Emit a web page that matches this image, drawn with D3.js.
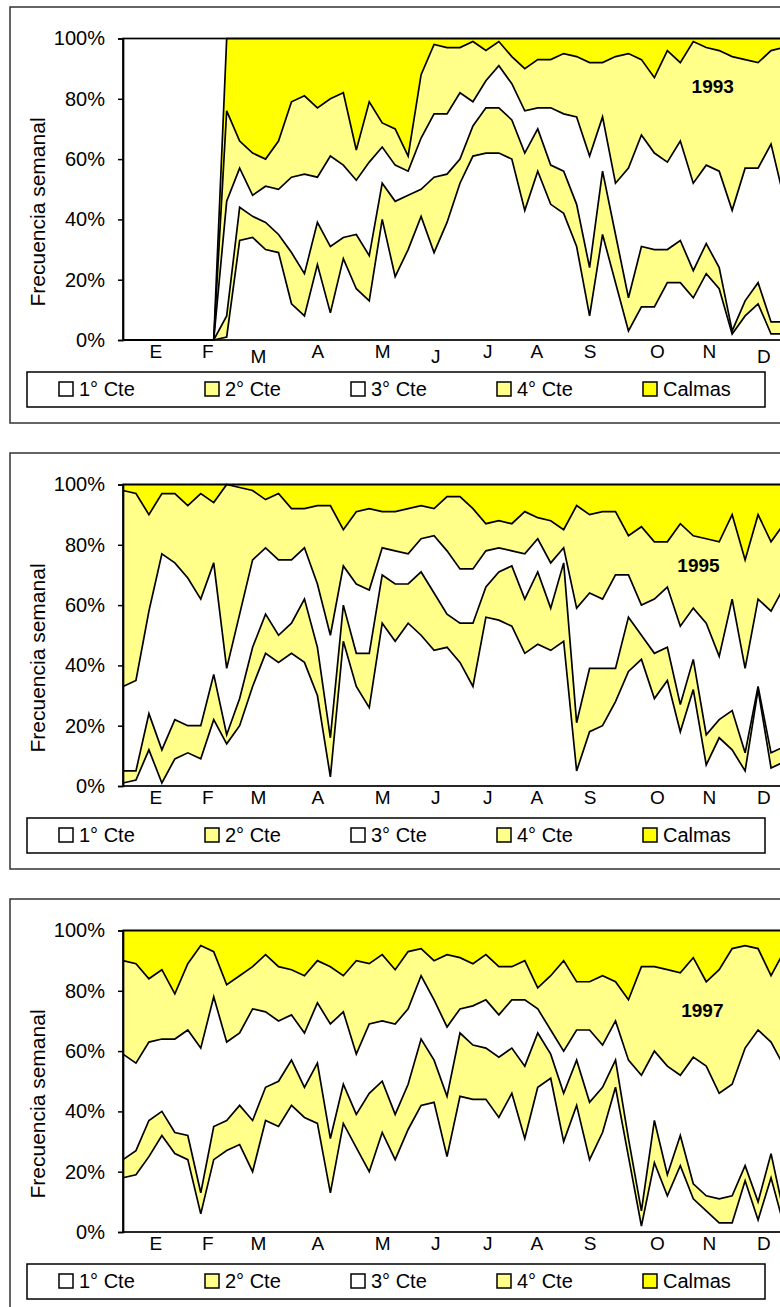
<!DOCTYPE html>
<html>
<head>
<meta charset="utf-8">
<script src="https://cdn.jsdelivr.net/npm/d3@7"></script>
<style>
body { margin: 0; background: #fff; }
svg { display: block; }
text { font-family: "Liberation Sans", Arial, sans-serif; fill: #000; }
</style>
</head>
<body>
<svg id="chart" width="780" height="1307"></svg>
<script>
// weekly frequency (%) per wind class, 52 weeks per year
const years = ['1993', '1995', '1997']
const seriesNames = ['1° Cte', '2° Cte', '3° Cte', '4° Cte', 'Calmas']
const months = ['E', 'F', 'M', 'A', 'M', 'J', 'J', 'A', 'S', 'O', 'N', 'D']
const monthWeeks = [2.5, 6.5, 10.4, 15, 20, 24.1, 28.1, 31.9, 36, 41.2, 45.2, 49.4]
const yTicks = [0, 20, 40, 60, 80, 100]

const cte1_1993 = [0,0,0,0,0,0,0,0,1,33,34,30,29,12,8,25,9,27,17,13,40,21,30,41,29,39,52,61,62,62,60,43,56,45,42,31,8,35,19,3,11,11,19,19,14,22,17,2,8,12,2,2]
const cte2_1993 = [0,0,0,0,0,0,0,0,7,11,7,9,6,17,14,14,22,7,18,15,12,25,18,9,25,16,8,10,15,15,13,19,14,13,14,14,16,21,16,11,20,19,11,14,9,10,7,1,5,7,4,4]
const cte3_1993 = [0,0,0,0,0,0,0,0,38,13,7,12,15,25,33,15,30,24,18,31,12,12,8,17,21,20,22,8,9,14,12,14,7,19,19,29,37,18,17,43,37,32,29,33,29,26,32,40,44,38,59,41]
const cte4_1993 = [0,0,0,0,0,0,0,0,30,9,14,9,16,25,26,23,19,24,10,20,8,12,5,21,23,22,15,20,10,8,9,14,16,16,20,20,31,18,42,38,25,25,37,26,47,39,40,51,36,35,31,50]
const calmas_1993 = [0,0,0,0,0,0,0,0,24,34,38,40,34,21,19,23,20,18,37,21,28,30,39,12,2,3,3,1,4,1,6,10,7,7,5,6,8,8,6,5,7,13,4,8,1,3,4,6,7,8,4,3]

const cte1_1995 = [1,2,12,1,9,11,9,22,14,20,33,44,41,44,41,30,3,48,33,26,54,48,54,50,45,46,41,33,56,55,53,44,47,45,48,5,18,20,28,38,42,29,35,18,32,7,16,12,5,32,6,8]
const cte2_1995 = [4,3,12,11,13,9,11,15,3,9,13,13,9,10,21,16,13,12,11,18,16,19,13,21,19,11,13,21,10,16,20,18,24,14,26,16,21,19,11,18,8,15,11,9,10,10,6,13,6,1,5,5]
const cte3_1995 = [28,30,34,65,52,49,42,37,22,28,29,22,25,21,17,21,34,13,23,21,9,11,10,11,19,21,18,18,12,8,5,15,11,15,5,38,25,23,31,14,10,18,20,26,17,37,21,37,28,29,47,53]
const cte4_1995 = [65,62,32,20,23,24,35,20,61,42,23,16,22,17,13,26,43,12,24,27,12,13,15,11,9,18,24,20,9,9,9,14,7,14,6,34,26,29,21,13,26,19,15,34,24,28,38,28,36,28,23,21]
const calmas_1995 = [2,3,10,3,3,7,3,6,0,1,2,5,3,8,8,7,7,15,9,8,9,9,8,7,8,4,4,8,13,12,13,9,11,12,15,7,10,9,9,17,14,19,19,13,17,18,19,10,25,10,19,13]

const cte1_1997 = [18,19,25,32,26,24,6,24,27,29,20,37,35,42,38,36,13,36,28,20,33,24,34,42,43,25,45,44,44,38,46,31,48,51,30,42,24,33,48,25,2,23,12,22,11,7,3,3,17,4,18,2]
const cte2_1997 = [6,8,12,8,7,8,7,11,10,13,17,11,15,15,10,20,18,13,11,26,17,15,15,22,14,20,21,18,17,20,15,24,18,8,16,15,19,15,9,6,5,14,7,10,5,5,8,9,5,6,8,4]
const cte3_1997 = [35,29,26,24,31,35,48,43,26,24,37,25,20,15,18,20,38,24,20,23,20,30,25,21,20,23,8,13,16,14,16,22,8,8,14,10,24,14,13,26,45,23,36,20,42,43,35,37,39,57,37,49]
const cte4_1997 = [31,33,21,23,15,22,34,15,19,19,14,19,18,15,19,14,19,12,31,20,22,18,19,9,13,24,17,14,15,16,11,13,7,18,30,16,16,23,13,20,36,28,32,34,33,28,41,45,34,27,22,38]
const calmas_1997 = [10,11,16,13,21,11,5,7,18,15,12,8,12,13,15,10,12,15,10,11,8,13,7,6,10,8,9,11,8,12,12,10,19,15,10,17,17,15,17,23,12,12,13,14,9,17,13,6,5,6,15,7]

const yearSeries = [
    [cte1_1993, cte2_1993, cte3_1993, cte4_1993, calmas_1993],
    [cte1_1995, cte2_1995, cte3_1995, cte4_1995, calmas_1995],
    [cte1_1997, cte2_1997, cte3_1997, cte4_1997, calmas_1997]
]

// layout
const panelTops = [7, 453, 899]
const plotTop = 31.5, plotH = 301.5
const yearLabelAt = [[45.5, 82], [44.4, 71], [44.7, 71.4]]   // [week, %]
const colors = ['#ffffff', '#ffff8a', '#ffffff', '#ffff8a', '#ffff00']
const font = '"Liberation Sans", Arial, sans-serif'

const svg = d3.select('#chart')
const x = d3.scaleLinear().domain([0, 51]).range([123, 784])
const y = d3.scaleLinear().domain([0, 100]).range([plotTop + plotH, plotTop])

years.forEach((year, p) => {
    const g = svg.append('g').attr('transform', `translate(0,${panelTops[p]})`)
    const rows = d3.range(52).map(i => {
        const r = { week: i }
        seriesNames.forEach((k, s) => { r[k] = yearSeries[p][s][i] })
        return r
    })
    const stacked = d3.stack().keys(seriesNames)(rows)

    g.append('rect')
        .attr('x', 10).attr('y', 0)
        .attr('width', 800).attr('height', 416)
        .attr('fill', 'none')
        .attr('stroke', '#333')
        .attr('stroke-width', 1.5)

    const area = d3.area()
        .x((d, i) => x(i))
        .y0(d => y(d[0]))
        .y1(d => y(d[1]))
    const line = d3.line()
        .x((d, i) => x(i))
        .y(d => y(d[1]))

    g.selectAll('.band')
        .data(stacked)
        .enter()
        .append('path')
        .attr('d', area)
        .attr('fill', (d, i) => colors[i])
        .attr('stroke', 'none')

    g.selectAll('.edge')
        .data(stacked)
        .enter()
        .append('path')
        .attr('d', line)
        .attr('fill', 'none')
        .attr('stroke', '#000')
        .attr('stroke-width', 1.7)
        .attr('stroke-linejoin', 'miter')

    // plot frame
    g.append('rect')
        .attr('x', x(0)).attr('y', y(100))
        .attr('width', x(51) - x(0)).attr('height', y(0) - y(100))
        .attr('fill', 'none')
        .attr('stroke', '#000')
        .attr('stroke-width', 1.7)

    const yAxis = g.append('g')
        .attr('transform', `translate(${x(0)},0)`)
        .call(d3.axisLeft(y).tickValues(yTicks).tickFormat(d => d + '%').tickSize(5).tickPadding(13))
    yAxis.select('.domain').attr('stroke', '#000').attr('stroke-width', 1.7)
    yAxis.selectAll('line').attr('stroke', '#000').attr('stroke-width', 1.5)
    yAxis.selectAll('text').attr('font-size', 20).attr('font-family', font).attr('fill', '#000')

    const xAxis = g.append('g')
        .attr('transform', `translate(0,${y(0)})`)
        .call(d3.axisBottom(x).tickValues(monthWeeks).tickFormat((d, i) => months[i]).tickSize(0).tickPadding(5))
    xAxis.select('.domain').remove()
    xAxis.selectAll('text').attr('font-size', 19).attr('font-family', font).attr('fill', '#000')
    if (p === 0) {
        xAxis.selectAll('text').filter((d, i) => i === 2 || i === 5 || i === 11).attr('y', 10)
    }

    g.append('text')
        .attr('transform', `translate(37,${plotTop + 173.5}) rotate(-90)`)
        .attr('text-anchor', 'middle')
        .attr('dominant-baseline', 'central')
        .attr('font-size', 21)
        .text('Frecuencia semanal')

    g.append('text')
        .attr('x', x(yearLabelAt[p][0]))
        .attr('y', y(yearLabelAt[p][1]))
        .attr('text-anchor', 'middle')
        .attr('font-size', 19)
        .attr('font-weight', 'bold')
        .text(year)

    // legend
    const ly = y(0) + 32
    g.append('rect')
        .attr('x', 27).attr('y', ly)
        .attr('width', 738).attr('height', 35)
        .attr('fill', '#fff')
        .attr('stroke', '#000')
        .attr('stroke-width', 1.5)
    const items = g.selectAll('.leg')
        .data(seriesNames)
        .enter()
        .append('g')
        .attr('transform', (d, i) => `translate(${59 + i * 146},${ly})`)
    items.append('rect')
        .attr('x', 0).attr('y', 10)
        .attr('width', 14).attr('height', 14)
        .attr('fill', (d, i) => colors[i])
        .attr('stroke', '#000')
        .attr('stroke-width', 1.5)
    items.append('text')
        .attr('x', 20).attr('y', 24)
        .attr('font-size', 20)
        .text(d => d)
})
</script>
</body>
</html>
